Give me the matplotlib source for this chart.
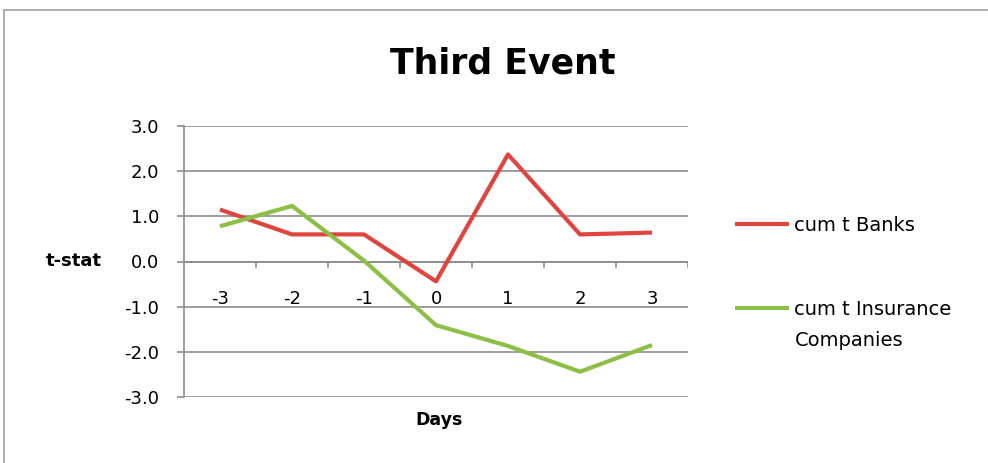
import numpy as np
import matplotlib.pyplot as plt
from matplotlib.patches import Rectangle

days = ['-3', '-2', '-1', '0', '1', '2', '3']
banks = [1.15, 0.60, 0.60, -0.44, 2.37, 0.60, 0.64]
insurance = [0.78, 1.23, 0.02, -1.41, -1.87, -2.44, -1.85]
yticks = [-3.0, -2.0, -1.0, 0.0, 1.0, 2.0, 3.0]

red = '#E0443F'
green = '#8CBF45'
gray = '#8C8C8C'
font = 'DejaVu Sans'

fig = plt.figure(figsize=(9.88, 4.63), dpi=100)
fig.patches.append(Rectangle((4 / 988, -0.1), 1.2, 1 - 10 / 463 + 0.1,
                             transform=fig.transFigure, fill=False,
                             edgecolor='#A0A0A0', lw=1.2))

ax = fig.add_axes([184 / 988, 1 - 397 / 463, (688 - 184) / 988, (397 - 126) / 463])
x = np.arange(len(days))
ax.plot(x, banks, color=red, lw=3, solid_capstyle='butt', label='cum t Banks', zorder=3)
ax.plot(x, insurance, color=green, lw=3, solid_capstyle='butt',
        label='cum t Insurance', zorder=3)

ax.set_xlim(-0.5, len(days) - 0.5)
ax.set_ylim(-3, 3)
ax.set_yticks(yticks)
ax.set_yticklabels([f'{v:.1f}' for v in yticks], fontsize=13, family=font)
ax.tick_params(axis='y', length=5, color=gray, width=1.2, pad=13)
ax.set_xticks([])
ax.grid(axis='y', color=gray, lw=1.2)
ax.set_axisbelow(True)
for s in ['top', 'right', 'bottom']:
    ax.spines[s].set_visible(False)
ax.spines['left'].set_color(gray)
ax.spines['left'].set_linewidth(1.2)

# horizontal category axis at zero with boundary ticks
ax.axhline(0, color=gray, lw=1.2, zorder=2)
for b in np.arange(0.5, len(days), 1.0):
    ax.plot([b, b], [0, -0.13], color=gray, lw=1.2, zorder=2)
for i, d in enumerate(days):
    ax.text(i, -0.82, d, ha='center', va='center', fontsize=13, family=font)

fig.text(102 / 988, 1 - 261 / 463, 't-stat', ha='right', va='center',
         fontsize=13, fontweight='bold', family=font)
fig.text(439 / 988, 1 - 420 / 463, 'Days', ha='center', va='center',
         fontsize=12.5, fontweight='bold', family=font)
fig.text(503 / 988, 1 - 63 / 463, 'Third Event', ha='center', va='center',
         fontsize=25, fontweight='bold', family=font)

leg = fig.legend(loc='upper left', bbox_to_anchor=(735 / 988, 1 - 216 / 463),
                 frameon=False, prop={'family': font, 'size': 14},
                 handlelength=2.8, handletextpad=0.25, labelspacing=3.32,
                 borderpad=0, borderaxespad=0)
fig.text(795 / 988, 1 - 340 / 463, 'Companies', ha='left', va='center',
         fontsize=14, family=font)

fig.savefig('out.png', dpi=100)
